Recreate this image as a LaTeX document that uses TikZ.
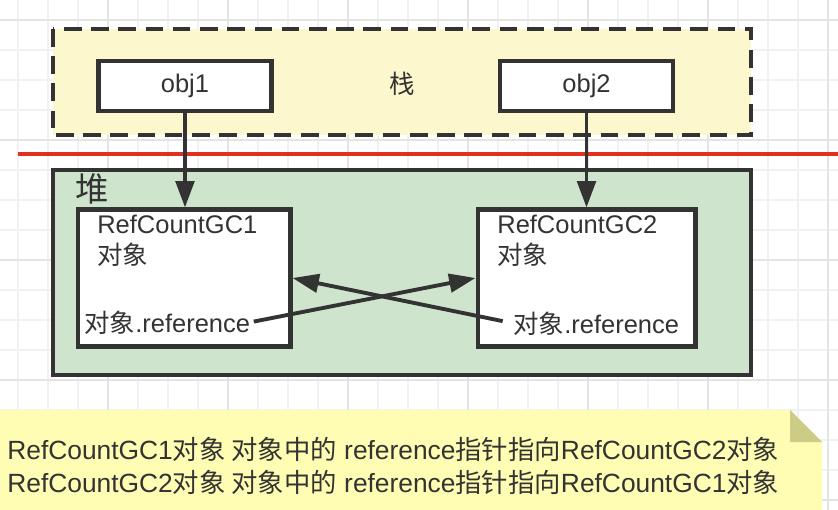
\documentclass[tikz,border=0pt]{standalone}
\usepackage{fontspec}
\setmainfont{Liberation Sans}
\newfontfamily\cjk{Noto Sans CJK SC}
\usepackage[dvipsnames]{xcolor}
\usepackage{tikz}
\usetikzlibrary{arrows.meta, backgrounds}

\definecolor{ink}{HTML}{333333}
\definecolor{stackfill}{HTML}{FCF7CD}
\definecolor{heapfill}{HTML}{CFE4CC}
\definecolor{notefill}{HTML}{FFFDB3}
\definecolor{notefold}{HTML}{CDCC87}
\definecolor{splitred}{HTML}{E2301E}
\definecolor{gridminor}{HTML}{F1F1F1}
\definecolor{gridmajor}{HTML}{E4E4E4}

\tikzset{
    objbox/.style={draw=ink, fill=white, line width=2.3pt, inner sep=0pt, text=ink, font=\fontsize{14.5pt}{17pt}\selectfont},
    txt/.style={inner sep=0pt, anchor=base west, text=ink, font=\fontsize{14.5pt}{17pt}\selectfont},
    ptr/.style={draw=ink, line width=2.2pt, -{Triangle[length=15pt, width=10.5pt]}},
}

\begin{document}
\begin{tikzpicture}[x=0.02cm, y=-0.02cm]

    \pgfmathsetmacro{\W}{838}
    \pgfmathsetmacro{\H}{510}

    \useasboundingbox (0,0) rectangle (\W,\H);

    \begin{scope}
        \clip (0,0) rectangle (\W,\H);
        \foreach \x in {18,48,...,838} \draw[gridminor, line width=0.7pt] (\x,0) -- (\x,\H);
        \foreach \y in {20,50,...,500} \draw[gridminor, line width=0.7pt] (0,\y) -- (\W,\y);
        \foreach \x in {108,228,...,828} \draw[gridmajor, line width=0.9pt] (\x,0) -- (\x,\H);
        \foreach \y in {20,140,...,500} \draw[gridmajor, line width=0.9pt] (0,\y) -- (\W,\y);
    \end{scope}

    % stack
    \filldraw[draw=ink, fill=stackfill, line width=2.3pt, dash pattern=on 10pt off 5.5pt] (53,29) rectangle (751,135);
    \node (stacklbl) [text=ink, font=\cjk\fontsize{14.5pt}{17pt}\selectfont] at (402,84) {栈};
    \node (obj1) [objbox, minimum width=3.46cm, minimum height=1.0cm] at (185,86) {obj1};
    \node (obj2) [objbox, minimum width=3.46cm, minimum height=1.0cm] at (586.5,86) {obj2};

    \draw[splitred, line width=2pt] (18,154) -- (\W,154);

    % heap
    \filldraw[draw=ink, fill=heapfill, line width=2.3pt] (53,170) rectangle (751,375);
    \node (heaplbl) [text=ink, inner sep=0pt, font=\cjk\fontsize{19pt}{22pt}\selectfont] at (92,189) {堆};
    \node (box1) [objbox, minimum width=4.26cm, minimum height=2.74cm] at (184,278) {};
    \node (box2) [objbox, minimum width=4.36cm, minimum height=2.74cm] at (586.5,278) {};

    \node (name1) [txt] at (97,233) {RefCountGC1};
    \node (kind1) [txt] at (97,264) {\cjk 对象};
    \node (ref1)  [txt] at (84,332) {{\cjk 对象}.reference};
    \node (name2) [txt] at (497,233) {RefCountGC2};
    \node (kind2) [txt] at (497,264) {\cjk 对象};
    \node (ref2)  [txt] at (513,333) {{\cjk 对象}.reference};

    \draw[ptr] (obj1.south) -- (obj1.south |- box1.north);
    \draw[ptr] (obj2.south) -- (obj2.south |- box2.north);
    \draw[ptr, shorten <=2pt] (ref1.east) -- (box2.west);
    \draw[ptr, shorten <=6pt] (ref2.west) -- (box1.east);

    % note
    \fill[notefill] (0,410) -- (790,410) -- (822,442) -- (822,\H) -- (0,\H) -- cycle;
    \fill[notefold] (790,410) -- (822,442) -- (790,442) -- cycle;
    \node (note1) [txt, font=\fontsize{15pt}{18pt}\selectfont] at (7,459) {RefCountGC1{\cjk 对象 对象中的} reference{\cjk 指针指向}RefCountGC2{\cjk 对象}};
    \node (note2) [txt, font=\fontsize{15pt}{18pt}\selectfont] at (7,492) {RefCountGC2{\cjk 对象 对象中的} reference{\cjk 指针指向}RefCountGC1{\cjk 对象}};

\end{tikzpicture}
\end{document}
